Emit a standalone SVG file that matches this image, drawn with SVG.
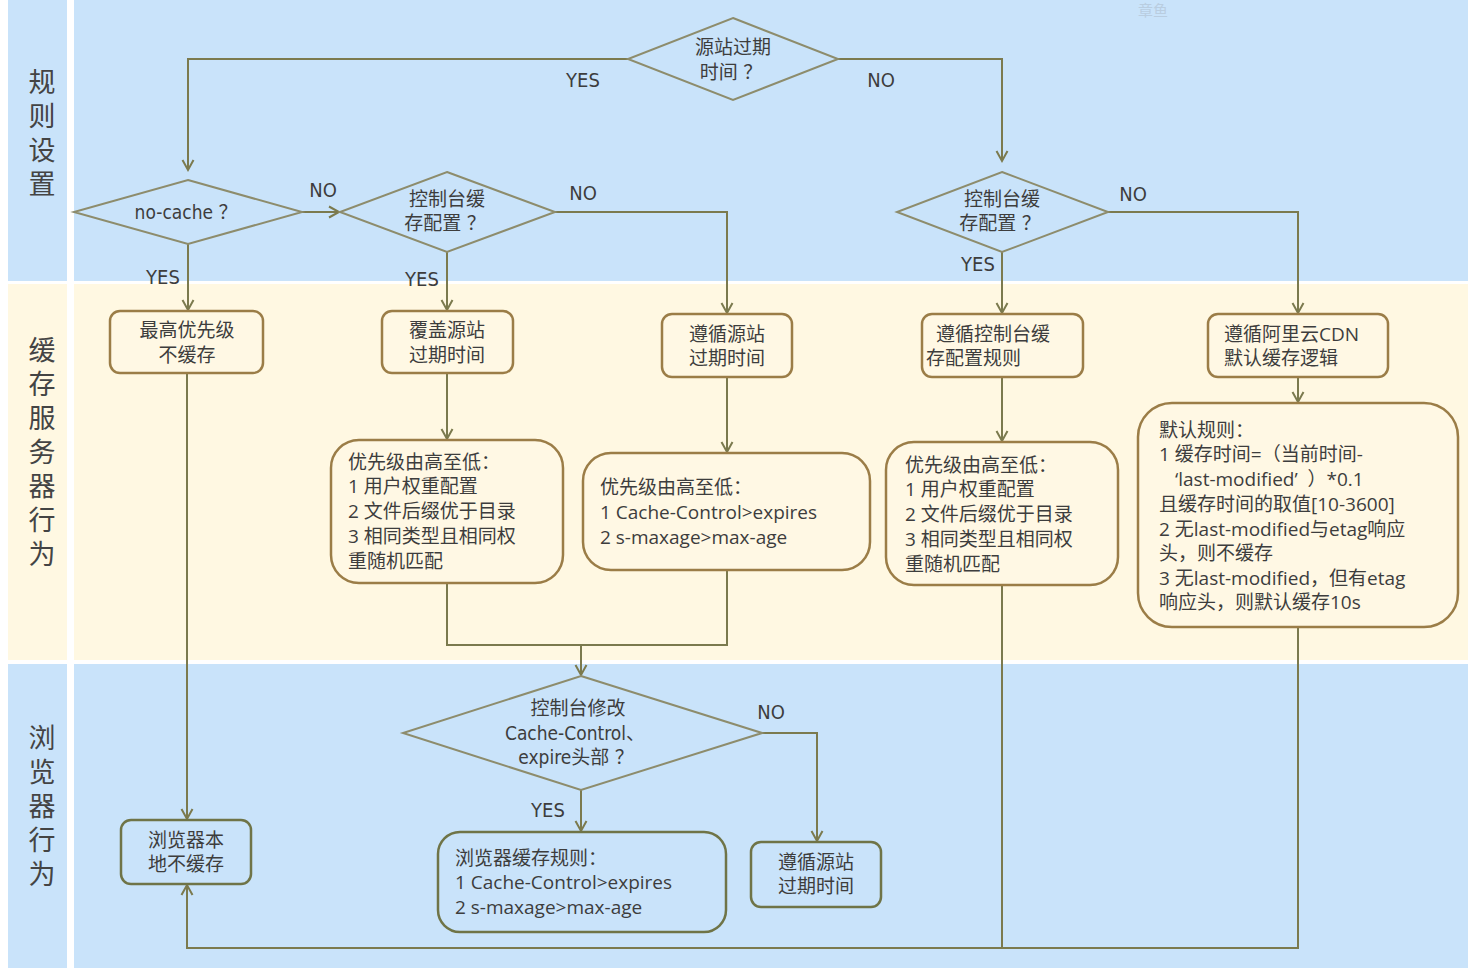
<svg xmlns="http://www.w3.org/2000/svg" width="1474" height="974" viewBox="0 0 1474 974">
<defs>
<marker id="arr" markerWidth="14" markerHeight="14" refX="11" refY="7" orient="auto" markerUnits="userSpaceOnUse">
<path d="M1,1.5 L11,7 L1,12.5" fill="none" stroke="#7b7a4e" stroke-width="2"/>
</marker>
<style>
.lane-blue{fill:#c9e3fa}
.lane-cream{fill:#fff8e2}
.lane-label{font-family:"Noto Sans CJK SC","Noto Sans",sans-serif;font-size:27px;fill:#444;writing-mode:vertical-rl;letter-spacing:7px}
.dia{fill:none;stroke:#8d8c6c;stroke-width:2}
.box{fill:#fff8e4;stroke:#9b7d47;stroke-width:2.5}
.box3{fill:#c9e3fa;stroke:#6f7447;stroke-width:2.5}
.t{font-family:"Open Sans","Noto Sans CJK SC",sans-serif;font-size:19px;fill:#3d3d3d;dominant-baseline:central}
.c{text-anchor:middle}
.d{font-family:"DejaVu Sans Condensed","Noto Sans CJK SC",sans-serif;font-size:19px;fill:#3d3d3d;dominant-baseline:central;text-anchor:middle}
.lbl{font-family:"DejaVu Sans Condensed","Liberation Sans",sans-serif;font-size:20px;fill:#3d3d3d;dominant-baseline:central;text-anchor:middle}
.conn{fill:none;stroke:#7b7a4e;stroke-width:2}
</style>
</defs>
<rect x="0" y="0" width="1474" height="974" fill="#ffffff"/>
<g id="lanes">
<rect class="lane-blue" x="8" y="0" width="59" height="281"/>
<rect class="lane-blue" x="74" y="0" width="1394" height="281"/>
<rect class="lane-cream" x="8" y="284" width="59" height="376"/>
<rect class="lane-cream" x="74" y="284" width="1394" height="376"/>
<rect class="lane-blue" x="8" y="664" width="59" height="304"/>
<rect class="lane-blue" x="74" y="664" width="1394" height="304"/>
<text class="lane-label" x="42" y="68">规则设置</text>
<text class="lane-label" x="42" y="336">缓存服务器行为</text>
<text class="lane-label" x="42" y="724">浏览器行为</text>
<text x="1153" y="9" font-family="Noto Sans CJK SC,serif" font-size="15" fill="#b9cde0" text-anchor="middle" dominant-baseline="central">章鱼</text>
</g>
<g id="connectors">
<path class="conn" d="M628,59 H188 V170" marker-end="url(#arr)"/>
<path class="conn" d="M838,59 H1002 V161" marker-end="url(#arr)"/>
<path class="conn" d="M302,212 H339" marker-end="url(#arr)"/>
<path class="conn" d="M555,212 H727 V313" marker-end="url(#arr)"/>
<path class="conn" d="M188,244 V310" marker-end="url(#arr)"/>
<path class="conn" d="M447,252 V310" marker-end="url(#arr)"/>
<path class="conn" d="M1002,252 V313" marker-end="url(#arr)"/>
<path class="conn" d="M1108,212 H1298 V313" marker-end="url(#arr)"/>
<path class="conn" d="M187,373 V819" marker-end="url(#arr)"/>
<path class="conn" d="M447,373 V439" marker-end="url(#arr)"/>
<path class="conn" d="M727,377 V452" marker-end="url(#arr)"/>
<path class="conn" d="M1002,377 V441" marker-end="url(#arr)"/>
<path class="conn" d="M1298,377 V402" marker-end="url(#arr)"/>
<path class="conn" d="M447,583 V645 H727 V570"/>
<path class="conn" d="M581,645 V675" marker-end="url(#arr)"/>
<path class="conn" d="M762,733 H817 V841" marker-end="url(#arr)"/>
<path class="conn" d="M581,790 V831" marker-end="url(#arr)"/>
<path class="conn" d="M1298,627 V948 H187 V885" marker-end="url(#arr)"/>
<path class="conn" d="M1002,585 V948"/>
<text class="lbl" x="583" y="80">YES</text>
<text class="lbl" x="881" y="80">NO</text>
<text class="lbl" x="323" y="190">NO</text>
<text class="lbl" x="583" y="193">NO</text>
<text class="lbl" x="1133" y="194">NO</text>
<text class="lbl" x="163" y="277">YES</text>
<text class="lbl" x="422" y="279">YES</text>
<text class="lbl" x="978" y="264">YES</text>
<text class="lbl" x="771" y="712">NO</text>
<text class="lbl" x="548" y="810">YES</text>
</g>
<g id="d-origin-expire">
<polygon class="dia" points="733,18 838,59 733,100 628,59"/>
<text class="d" x="733" y="47">源站过期</text>
<text class="d" x="731" y="72">时间 ？</text>
</g>
<g id="d-nocache">
<polygon class="dia" points="188,180 302,212 188,244 74,212"/>
<text class="d" x="186" y="212">no-cache ？</text>
</g>
<g id="d-console1">
<polygon class="dia" points="447,172 555,212 447,252 340,212"/>
<text class="d" x="447" y="199">控制台缓</text>
<text class="d" x="445" y="223">存配置 ？</text>
</g>
<g id="d-console2">
<polygon class="dia" points="1002,172 1108,212 1002,252 897,212"/>
<text class="d" x="1002" y="199">控制台缓</text>
<text class="d" x="1000" y="223">存配置 ？</text>
</g>
<g id="n-nocache">
<rect class="box" x="110" y="311" width="153" height="62" rx="10"/>
<text class="t c" x="187" y="330">最高优先级</text>
<text class="t c" x="187" y="355">不缓存</text>
</g>
<g id="n-override">
<rect class="box" x="382" y="311" width="131" height="62" rx="10"/>
<text class="t c" x="447" y="330">覆盖源站</text>
<text class="t c" x="447" y="355">过期时间</text>
</g>
<g id="n-follow-origin">
<rect class="box" x="662" y="314" width="130" height="63" rx="10"/>
<text class="t c" x="727" y="334">遵循源站</text>
<text class="t c" x="727" y="358">过期时间</text>
</g>
<g id="n-follow-console">
<rect class="box" x="922" y="314" width="161" height="63" rx="10"/>
<text class="t" x="936" y="334">遵循控制台缓</text>
<text class="t" x="926" y="358">存配置规则</text>
</g>
<g id="n-follow-aliyun">
<rect class="box" x="1208" y="314" width="180" height="63" rx="10"/>
<text class="t" x="1224" y="334">遵循阿里云CDN</text>
<text class="t" x="1224" y="358">默认缓存逻辑</text>
</g>
<g id="n-priority1">
<rect class="box" x="331" y="440" width="232" height="143" rx="28"/>
<text class="t" x="348" y="462">优先级由高至低：</text>
<text class="t" x="348" y="486">1 用户权重配置</text>
<text class="t" x="348" y="511">2 文件后缀优于目录</text>
<text class="t" x="348" y="536">3 相同类型且相同权</text>
<text class="t" x="348" y="561">重随机匹配</text>
</g>
<g id="n-priority2">
<rect class="box" x="583" y="453" width="287" height="117" rx="28"/>
<text class="t" x="600" y="487">优先级由高至低：</text>
<text class="t" x="600" y="512">1 Cache-Control&gt;expires</text>
<text class="t" x="600" y="537">2 s-maxage&gt;max-age</text>
</g>
<g id="n-priority3">
<rect class="box" x="886" y="442" width="232" height="143" rx="28"/>
<text class="t" x="905" y="465">优先级由高至低：</text>
<text class="t" x="905" y="489">1 用户权重配置</text>
<text class="t" x="905" y="514">2 文件后缀优于目录</text>
<text class="t" x="905" y="539">3 相同类型且相同权</text>
<text class="t" x="905" y="564">重随机匹配</text>
</g>
<g id="n-default-rules">
<rect class="box" x="1138" y="403" width="320" height="224" rx="34"/>
<text class="t" x="1159" y="430">默认规则：</text>
<text class="t" x="1159" y="454">1 缓存时间=（当前时间-</text>
<text class="t" x="1175" y="479" xml:space="preserve">‘last-modified’  ）*0.1</text>
<text class="t" x="1159" y="504">且缓存时间的取值[10-3600]</text>
<text class="t" x="1159" y="529">2 无last-modified与etag响应</text>
<text class="t" x="1159" y="553">头，则不缓存</text>
<text class="t" x="1159" y="578">3 无last-modified，但有etag</text>
<text class="t" x="1159" y="602">响应头，则默认缓存10s</text>
</g>
<g id="d-browser">
<polygon class="dia" points="581,676 762,733 581,790 403,733"/>
<text class="d" x="578" y="708">控制台修改</text>
<text class="d" x="575" y="733">Cache-Control、</text>
<text class="d" x="576" y="757">expire头部 ？</text>
</g>
<g id="n-browser-nocache">
<rect class="box3" x="121" y="820" width="130" height="64" rx="10"/>
<text class="t c" x="186" y="840">浏览器本</text>
<text class="t c" x="186" y="864">地不缓存</text>
</g>
<g id="n-browser-rules">
<rect class="box3" x="438" y="832" width="288" height="100" rx="22"/>
<text class="t" x="455" y="858">浏览器缓存规则：</text>
<text class="t" x="455" y="882">1 Cache-Control&gt;expires</text>
<text class="t" x="455" y="907">2 s-maxage&gt;max-age</text>
</g>
<g id="n-browser-origin">
<rect class="box3" x="751" y="842" width="130" height="65" rx="10"/>
<text class="t c" x="816" y="862">遵循源站</text>
<text class="t c" x="816" y="886">过期时间</text>
</g>
</svg>
